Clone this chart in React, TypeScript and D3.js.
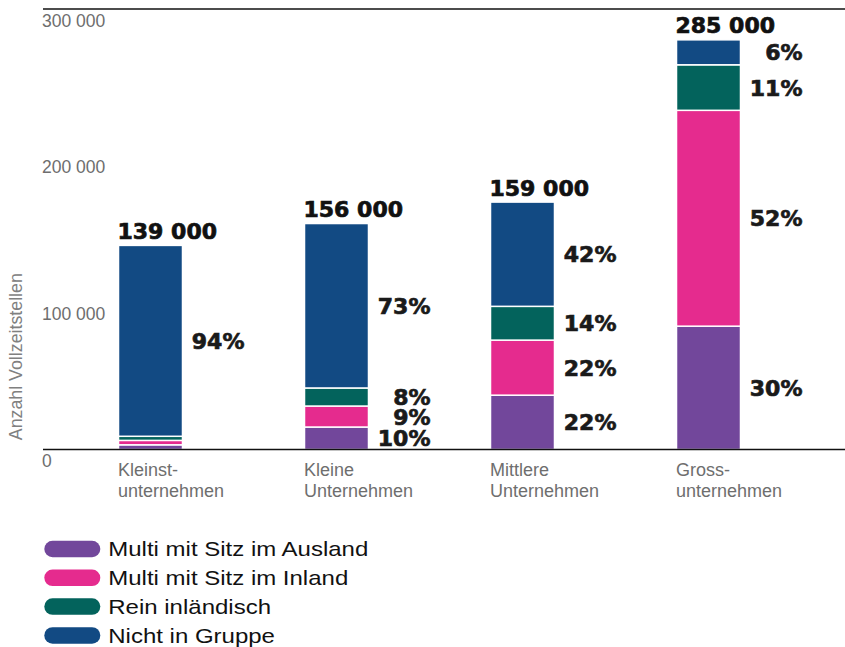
import React from "react";
import * as d3 from "d3";

const categories = ["Kleinst", "Kleine", "Mittlere", "Gross"];
const categoryLines = [
  ["Kleinst-", "unternehmen"],
  ["Kleine", "Unternehmen"],
  ["Mittlere", "Unternehmen"],
  ["Gross-", "unternehmen"],
];
const seriesKeys = ["ausland", "inland", "rein", "nicht"];
const seriesNames = [
  "Multi mit Sitz im Ausland",
  "Multi mit Sitz im Inland",
  "Rein inländisch",
  "Nicht in Gruppe",
];
const seriesColors = ["#72479B", "#E52B8E", "#03635C", "#124A83"];

const auslandValues = [3200, 15300, 37000, 84000];
const inlandValues = [3000, 14300, 37500, 147000];
const reinValues = [2800, 12300, 23000, 31000];
const nichtValues = [130000, 112000, 71000, 17000];

const pctAusland = ["", "10%", "22%", "30%"];
const pctInland = ["", "9%", "22%", "52%"];
const pctRein = ["", "8%", "14%", "11%"];
const pctNicht = ["94%", "73%", "42%", "6%"];

const totalLabels = ["139 000", "156 000", "159 000", "285 000"];
const yTicks = [0, 100000, 200000, 300000];
const yTickLabels = ["0", "100 000", "200 000", "300 000"];
const yTitle = "Anzahl Vollzeitstellen";

const W = 845;
const H = 647;
const SANS = "'Liberation Sans', Arial, Helvetica, sans-serif";
const BOLD = "'DejaVu Sans', 'Liberation Sans', sans-serif";

export default function App() {
  const rows = categories.map((c, i) => ({
    cat: c,
    ausland: auslandValues[i],
    inland: inlandValues[i],
    rein: reinValues[i],
    nicht: nichtValues[i],
  }));
  const pcts = [pctAusland, pctInland, pctRein, pctNicht];
  const stacked = d3.stack<any>().keys(seriesKeys)(rows);

  const y = d3.scaleLinear().domain([0, 300000]).range([449.5, 9]);
  const x = d3
    .scaleBand<string>()
    .domain(categories)
    .range([57.5, 801.5])
    .paddingInner(0.656)
    .paddingOuter(0.328);
  const bw = x.bandwidth();

  const legendY = d3.scaleLinear().domain([0, 3]).range([549, 635.4]);

  return (
    <svg
      width={W}
      height={H}
      viewBox={`0 0 ${W} ${H}`}
      style={{ position: "absolute", left: 0, top: 0, display: "block", background: "#fff" }}
    >
      <line x1={43} x2={845} y1={y(300000)} y2={y(300000)} stroke="#111" strokeWidth={1.5} />

      {yTicks.map((t, i) => (
        <text key={t} x={42} y={y(t) + 17.5} fontFamily={SANS} fontSize={17.5} fill="#6e6e6e">
          {yTickLabels[i]}
        </text>
      ))}

      <text
        transform={`translate(21.5, 356.7) rotate(-90)`}
        textAnchor="middle"
        fontFamily={SANS}
        fontSize={17.8}
        fill="#808080"
      >
        {yTitle}
      </text>

      {stacked.map((s, si) => (
        <g key={s.key}>
          {s.map((d, ci) => (
            <rect
              key={ci}
              x={x(categories[ci])}
              width={bw}
              y={y(d[1])}
              height={Math.max(0, y(d[0]) - y(d[1]))}
              fill={seriesColors[si]}
              stroke="#fff"
              strokeWidth={1.5}
            />
          ))}
        </g>
      ))}

      {stacked.map((s, si) => (
        <g key={"p" + s.key}>
          {s.map((d, ci) =>
            pcts[si][ci] ? (
              <text
                key={ci}
                x={(x(categories[ci]) as number) + bw + 62}
                y={(y(d[0]) + y(d[1])) / 2 + 8}
                textAnchor="end"
                fontFamily={BOLD}
                fontWeight="bold"
                fontSize={22}
                fill="#1a1a1a"
                stroke="#1a1a1a"
                strokeWidth={0.7}
              >
                {pcts[si][ci]}
              </text>
            ) : null
          )}
        </g>
      ))}

      {categories.map((c, ci) => {
        const top = stacked[stacked.length - 1][ci][1];
        return (
          <text
            key={"t" + c}
            x={(x(c) as number) - 1}
            y={y(top) - 6.5}
            fontFamily={BOLD}
            fontWeight="bold"
            fontSize={22}
            fill="#111"
            stroke="#111"
            strokeWidth={0.7}
          >
            {totalLabels[ci]}
          </text>
        );
      })}

      <line x1={43} x2={845} y1={y(0)} y2={y(0)} stroke="#111" strokeWidth={1.5} />

      {categories.map((c, ci) => (
        <text key={"c" + c} fontFamily={SANS} fontSize={18} fill="#6e6e6e">
          <tspan x={(x(c) as number) - 0.5} y={475.5}>
            {categoryLines[ci][0]}
          </tspan>
          <tspan x={(x(c) as number) - 0.5} y={496.5}>
            {categoryLines[ci][1]}
          </tspan>
        </text>
      ))}

      {seriesNames.map((n, i) => (
        <g key={n}>
          <rect
            x={44.3}
            y={legendY(i) - 8.25}
            width={56}
            height={16.5}
            rx={8.25}
            fill={seriesColors[i]}
          />
          <g transform={`translate(108.3, ${legendY(i) + 7.2}) scale(1.2, 1)`}>
            <text x={0} y={0} fontFamily={SANS} fontSize={20} fill="#111">
              {n}
            </text>
          </g>
        </g>
      ))}
    </svg>
  );
}
